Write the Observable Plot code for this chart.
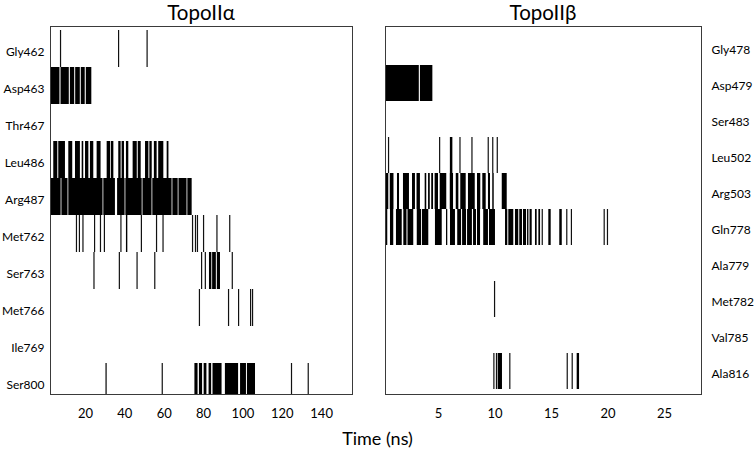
<!DOCTYPE html>
<html>
<head>
<meta charset="utf-8">
<script src="https://cdn.jsdelivr.net/npm/d3@7"></script>
<script src="https://cdn.jsdelivr.net/npm/@observablehq/plot@0.6"></script>
<style>
  html, body { margin: 0; padding: 0; background: #fff; }
  #wrap { position: relative; width: 755px; height: 450px; font-family: Lato, sans-serif; color: #000; }
  #wrap svg { position: absolute; left: 0; top: 0; }
  .lbl { position: absolute; text-align: center; white-space: nowrap; }
</style>
</head>
<body>
<div id="wrap">
  <div class="lbl" style="left:50px;width:302px;top:0px;font-size:20.5px;line-height:25px;">TopoIIα</div>
  <div class="lbl" style="left:385px;width:316px;top:0px;font-size:20.5px;line-height:25px;">TopoIIβ</div>
  <div class="lbl" style="left:0;width:755px;top:428px;font-size:18px;line-height:20px;">Time (ns)</div>
</div>
<script>
// ---- TopoIIα (time in ns); a number = single contact line, a pair = contact block ----
const alphaResidues = ["Gly462","Asp463","Thr467","Leu486","Arg487","Met762","Ser763","Met766","Ile769","Ser800"];
const alphaTicks = [20, 40, 60, 80, 100, 120, 140];
const gly462 = [7.3, 36.8, 51.3];
const asp463 = [[2.2,7.0],[7.55,11.75],[12.3,14.5],[15.0,17.35],[17.85,19.85],[20.4,23.2]];
const thr467 = [];
const leu486 = [[3.86,5.9],[6.4,9.8],[11.5,13.5],[14.9,17.4],[18.3,19.1],[20,21.7],[22.5,24.2],[25.9,27.9],
  [31,32.8],[33.2,34.4],[36.9,38.1],[38.6,39.8],[40.8,42],[44.2,46.3],[46.8,48.3],[50.5,52.2],[52.7,53.9],
  [55,56.4],[57.2,59.8],[61.5,62.4]];
const arg487 = [[2.2,7.6],[8.0,11.1],[11.5,28.9],[29.3,35.2],[36.3,40.1],[40.5,48.8],[49.2,53.8],[54.2,64],
  [64.4,67.1],[67.5,71.6],[72,74.2]];
const met762 = [15.4, 16.9, 18.7, 24.6, 27.6, 29.6, 38, [40.8,41.5], 48.4, 56.1, 59.4, 74.4, 75.9, 76.9, 80.0, 86.8, 93.3];
const ser763 = [24.3, 37.2, 46.2, 55.2, 79.0, 80.9, [83,84.2],[84.6,86.5],[87,88.6], 94.6];
const met766 = [77.9, 92.7, 97.8, 103.9, 104.9];
const ile769 = [];
const ser800 = [[30.4,31.0], 59, [75.6,77.2],[77.9,79.5],[80.3,81.7],[82.8,84.1],[84.8,89.4],[91.1,97.8],
  [98.8,101.8],[102.3,106.4], 124.7, 133.2];

// ---- TopoIIβ ----
const betaResidues = ["Gly478","Asp479","Ser483","Leu502","Arg503","Gln778","Ala779","Met782","Val785","Ala816"];
const betaTicks = [5, 10, 15, 20, 25];
const gly478 = [];
const asp479 = [[0.31,3.3],[3.4,4.5]];
const ser483 = [];
const leu502 = [0.58, 5.1, [6.05,6.27], 6.9, 7.96, 9.4, 9.8, 10.2];
const arg503 = [[0.31,0.6],[0.73,1.06],[1.37,1.55],[1.9,2.43],[2.7,2.96],[3.1,3.4],[3.82,3.96],[4.12,4.27],
  [4.4,4.56],[4.7,5.0],[5.15,5.73],[6.04,6.33],[6.57,6.8],[6.97,7.45],[7.65,8.25],[8.45,8.74],[8.92,9.22],
  [9.42,9.6],[9.8,9.93],[10.64,11.08]];
const gln778 = [[0.4,0.51],[0.75,1.04],[1.28,1.79],[1.93,2.21],[2.3,2.81],[3.12,3.5],[3.58,4.14],[4.73,5.33],
  [5.71,5.82],[6.06,6.5],[6.7,7.04],[7.13,7.48],[7.57,8.0],[8.1,8.36],[8.45,8.72],[9.0,9.42],[9.51,10.04],
  [10.93,11.13],[11.22,11.66],[11.81,12.1],[12.19,12.43],[12.52,12.79],[12.88,13.0],[13.1,13.29],[13.58,13.73],
  [13.88,14.03], 14.18, [14.76,14.97],[15.73,15.95], 16.35, 16.76, 19.66, 19.95];
const ala779 = [];
const met782 = [9.96];
const val785 = [];
const ala816 = [9.9, 10.13, [10.28,10.66], 11.31, 16.39, 16.83, [17.27,17.48]];

const alphaContacts = {Gly462: gly462, Asp463: asp463, Thr467: thr467, Leu486: leu486, Arg487: arg487,
  Met762: met762, Ser763: ser763, Met766: met766, Ile769: ile769, Ser800: ser800};
const betaContacts = {Gly478: gly478, Asp479: asp479, Ser483: ser483, Leu502: leu502, Arg503: arg503,
  Gln778: gln778, Ala779: ala779, Met782: met782, Val785: val785, Ala816: ala816};

function split(residues, contacts) {
  const lines = [], blocks = [];
  for (const r of residues) {
    for (const e of contacts[r]) {
      if (Array.isArray(e)) blocks.push({res: r, t1: e[0], t2: e[1]});
      else lines.push({res: r, t: e});
    }
  }
  return {lines, blocks};
}

function panel({residues, contacts, domain, ticks, mLeft, mRight, yRange, anchor, pad}) {
  const {lines, blocks} = split(residues, contacts);
  return Plot.plot({
    width: 755, height: 450,
    marginLeft: mLeft, marginRight: mRight, marginTop: 26, marginBottom: 56,
    style: {fontFamily: "Lato, sans-serif", fontSize: "13px", color: "#000", background: "transparent", overflow: "visible"},
    x: {domain, label: null},
    y: {domain: residues, range: yRange, padding: 0, label: null},
    marks: [
      Plot.barX(blocks, {y: "res", x1: "t1", x2: "t2", fill: "#000", clip: true}),
      Plot.tickX(lines, {y: "res", x: "t", stroke: "#111", strokeWidth: 1.2, clip: true}),
      Plot.frame({stroke: "#3a3a3a", strokeWidth: 1}),
      Plot.axisX({ticks, tickSize: 0, tickPadding: 14, label: null, fontSize: 13}),
      Plot.axisY({anchor, tickSize: 0, tickPadding: pad, label: null, fontSize: 12, dy: 3})
    ]
  });
}

const wrap = document.getElementById("wrap");
wrap.appendChild(panel({residues: alphaResidues, contacts: alphaContacts, domain: [2.2, 155.7], ticks: alphaTicks,
  mLeft: 50, mRight: 403, yRange: [29, 401], anchor: "left", pad: 6}));
wrap.appendChild(panel({residues: betaResidues, contacts: betaContacts, domain: [0.31, 28.27], ticks: betaTicks,
  mLeft: 385, mRight: 54, yRange: [24, 393], anchor: "right", pad: 10}));
</script>
</body>
</html>
